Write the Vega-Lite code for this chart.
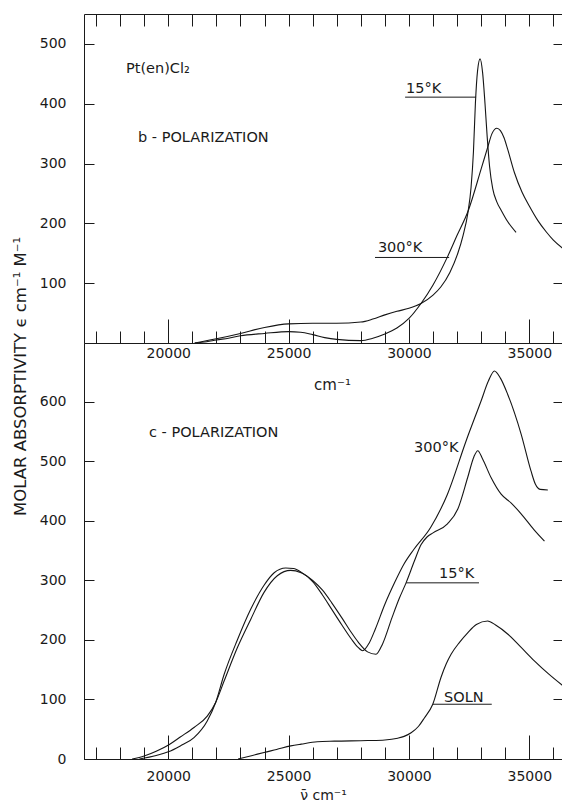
{
  "$schema": "https://vega.github.io/schema/vega-lite/v6.json",
  "padding": {"left": 12, "top": 13, "right": 0, "bottom": 2},
  "bounds": "flush",
  "spacing": 0,
  "config": {
    "view": {"stroke": null},
    "font": "DejaVu Sans",
    "axis": {
      "grid": false, "domainColor": "#1a1a1a", "tickColor": "#1a1a1a", "labelColor": "#1a1a1a", "titleColor": "#1a1a1a",
      "labelFont": "DejaVu Sans", "titleFont": "DejaVu Sans", "labelFontSize": 14, "titleFontSize": 14,
      "titleFontWeight": "normal", "domainWidth": 1, "tickWidth": 1, "labelOverlap": false, "labelFlush": false
    }
  },
  "datasets": {
    "top": [
      {"s": "300K", "v": 21100, "a": 0}, {"s": "300K", "v": 21600, "a": 2}, {"s": "300K", "v": 22000, "a": 5}, {"s": "300K", "v": 22500, "a": 8},
      {"s": "300K", "v": 23000, "a": 12}, {"s": "300K", "v": 24000, "a": 16}, {"s": "300K", "v": 25000, "a": 19}, {"s": "300K", "v": 25500, "a": 18},
      {"s": "300K", "v": 26000, "a": 14}, {"s": "300K", "v": 26500, "a": 9}, {"s": "300K", "v": 27000, "a": 6}, {"s": "300K", "v": 28000, "a": 4},
      {"s": "300K", "v": 28500, "a": 8}, {"s": "300K", "v": 29000, "a": 15}, {"s": "300K", "v": 29500, "a": 25}, {"s": "300K", "v": 30000, "a": 41},
      {"s": "300K", "v": 30500, "a": 66}, {"s": "300K", "v": 31000, "a": 97}, {"s": "300K", "v": 31600, "a": 144}, {"s": "300K", "v": 32000, "a": 180},
      {"s": "300K", "v": 32470, "a": 222}, {"s": "300K", "v": 33000, "a": 291}, {"s": "300K", "v": 33270, "a": 327}, {"s": "300K", "v": 33450, "a": 350},
      {"s": "300K", "v": 33650, "a": 359}, {"s": "300K", "v": 33800, "a": 355}, {"s": "300K", "v": 33950, "a": 343}, {"s": "300K", "v": 34100, "a": 324},
      {"s": "300K", "v": 34380, "a": 285}, {"s": "300K", "v": 34700, "a": 252}, {"s": "300K", "v": 35000, "a": 229}, {"s": "300K", "v": 35350, "a": 205},
      {"s": "300K", "v": 35700, "a": 186}, {"s": "300K", "v": 36000, "a": 172}, {"s": "300K", "v": 36400, "a": 158},
      {"s": "15K", "v": 21100, "a": 0}, {"s": "15K", "v": 22000, "a": 7}, {"s": "15K", "v": 23000, "a": 16}, {"s": "15K", "v": 24000, "a": 26},
      {"s": "15K", "v": 25000, "a": 32}, {"s": "15K", "v": 26000, "a": 33}, {"s": "15K", "v": 27000, "a": 33}, {"s": "15K", "v": 28000, "a": 35},
      {"s": "15K", "v": 28500, "a": 40}, {"s": "15K", "v": 29000, "a": 47}, {"s": "15K", "v": 29500, "a": 53}, {"s": "15K", "v": 30000, "a": 58},
      {"s": "15K", "v": 30500, "a": 66}, {"s": "15K", "v": 31000, "a": 80}, {"s": "15K", "v": 31330, "a": 94}, {"s": "15K", "v": 31700, "a": 118},
      {"s": "15K", "v": 32030, "a": 150}, {"s": "15K", "v": 32250, "a": 180}, {"s": "15K", "v": 32450, "a": 218}, {"s": "15K", "v": 32580, "a": 260},
      {"s": "15K", "v": 32680, "a": 320}, {"s": "15K", "v": 32760, "a": 400}, {"s": "15K", "v": 32850, "a": 455}, {"s": "15K", "v": 32955, "a": 475},
      {"s": "15K", "v": 33060, "a": 452}, {"s": "15K", "v": 33160, "a": 400}, {"s": "15K", "v": 33250, "a": 345}, {"s": "15K", "v": 33350, "a": 295},
      {"s": "15K", "v": 33480, "a": 258}, {"s": "15K", "v": 33650, "a": 236}, {"s": "15K", "v": 33830, "a": 222}, {"s": "15K", "v": 34100, "a": 203},
      {"s": "15K", "v": 34450, "a": 185}
    ],
    "bottom": [
      {"s": "300K", "v": 18800, "a": 0}, {"s": "300K", "v": 19500, "a": 6}, {"s": "300K", "v": 20000, "a": 12}, {"s": "300K", "v": 20500, "a": 22},
      {"s": "300K", "v": 21070, "a": 36}, {"s": "300K", "v": 21620, "a": 64}, {"s": "300K", "v": 21970, "a": 95}, {"s": "300K", "v": 22320, "a": 142},
      {"s": "300K", "v": 22870, "a": 200}, {"s": "300K", "v": 23430, "a": 252}, {"s": "300K", "v": 23980, "a": 292}, {"s": "300K", "v": 24400, "a": 313},
      {"s": "300K", "v": 24880, "a": 321}, {"s": "300K", "v": 25200, "a": 320}, {"s": "300K", "v": 25520, "a": 314}, {"s": "300K", "v": 26000, "a": 298},
      {"s": "300K", "v": 26400, "a": 276}, {"s": "300K", "v": 26800, "a": 251}, {"s": "300K", "v": 27200, "a": 226}, {"s": "300K", "v": 27600, "a": 202},
      {"s": "300K", "v": 27900, "a": 187}, {"s": "300K", "v": 28080, "a": 182}, {"s": "300K", "v": 28350, "a": 195}, {"s": "300K", "v": 28600, "a": 218},
      {"s": "300K", "v": 29000, "a": 260}, {"s": "300K", "v": 29400, "a": 296}, {"s": "300K", "v": 29800, "a": 328}, {"s": "300K", "v": 30200, "a": 352},
      {"s": "300K", "v": 30900, "a": 389}, {"s": "300K", "v": 31600, "a": 445}, {"s": "300K", "v": 32370, "a": 534}, {"s": "300K", "v": 33000, "a": 602},
      {"s": "300K", "v": 33300, "a": 635}, {"s": "300K", "v": 33550, "a": 652}, {"s": "300K", "v": 33800, "a": 640}, {"s": "300K", "v": 34100, "a": 613},
      {"s": "300K", "v": 34660, "a": 546}, {"s": "300K", "v": 35070, "a": 484}, {"s": "300K", "v": 35250, "a": 462}, {"s": "300K", "v": 35450, "a": 453},
      {"s": "300K", "v": 35770, "a": 452},
      {"s": "15K", "v": 18500, "a": 0}, {"s": "15K", "v": 19000, "a": 5}, {"s": "15K", "v": 19500, "a": 13}, {"s": "15K", "v": 20030, "a": 24},
      {"s": "15K", "v": 20500, "a": 37}, {"s": "15K", "v": 21070, "a": 53}, {"s": "15K", "v": 21620, "a": 72}, {"s": "15K", "v": 21970, "a": 95},
      {"s": "15K", "v": 22320, "a": 131}, {"s": "15K", "v": 22870, "a": 187}, {"s": "15K", "v": 23430, "a": 235}, {"s": "15K", "v": 23980, "a": 280},
      {"s": "15K", "v": 24530, "a": 308}, {"s": "15K", "v": 25090, "a": 317}, {"s": "15K", "v": 25520, "a": 313}, {"s": "15K", "v": 26000, "a": 300},
      {"s": "15K", "v": 26400, "a": 284}, {"s": "15K", "v": 26800, "a": 262}, {"s": "15K", "v": 27200, "a": 238}, {"s": "15K", "v": 27600, "a": 213},
      {"s": "15K", "v": 27900, "a": 196}, {"s": "15K", "v": 28280, "a": 180}, {"s": "15K", "v": 28630, "a": 176}, {"s": "15K", "v": 28900, "a": 193},
      {"s": "15K", "v": 29300, "a": 238}, {"s": "15K", "v": 29600, "a": 270}, {"s": "15K", "v": 29880, "a": 296}, {"s": "15K", "v": 30230, "a": 333},
      {"s": "15K", "v": 30500, "a": 360}, {"s": "15K", "v": 30750, "a": 373}, {"s": "15K", "v": 31000, "a": 380}, {"s": "15K", "v": 31600, "a": 395},
      {"s": "15K", "v": 32030, "a": 420}, {"s": "15K", "v": 32440, "a": 473}, {"s": "15K", "v": 32700, "a": 508}, {"s": "15K", "v": 32860, "a": 518},
      {"s": "15K", "v": 33050, "a": 505}, {"s": "15K", "v": 33410, "a": 473}, {"s": "15K", "v": 33830, "a": 445}, {"s": "15K", "v": 34250, "a": 430},
      {"s": "15K", "v": 34660, "a": 412}, {"s": "15K", "v": 35200, "a": 385}, {"s": "15K", "v": 35630, "a": 366},
      {"s": "SOLN", "v": 22900, "a": 0}, {"s": "SOLN", "v": 23500, "a": 6}, {"s": "SOLN", "v": 23980, "a": 11}, {"s": "SOLN", "v": 24500, "a": 16},
      {"s": "SOLN", "v": 25090, "a": 22}, {"s": "SOLN", "v": 25520, "a": 25}, {"s": "SOLN", "v": 26190, "a": 29}, {"s": "SOLN", "v": 26900, "a": 30},
      {"s": "SOLN", "v": 28280, "a": 31}, {"s": "SOLN", "v": 29000, "a": 32}, {"s": "SOLN", "v": 29530, "a": 35}, {"s": "SOLN", "v": 29800, "a": 38},
      {"s": "SOLN", "v": 30090, "a": 44}, {"s": "SOLN", "v": 30400, "a": 55}, {"s": "SOLN", "v": 30640, "a": 69}, {"s": "SOLN", "v": 30990, "a": 92},
      {"s": "SOLN", "v": 31330, "a": 137}, {"s": "SOLN", "v": 31550, "a": 160}, {"s": "SOLN", "v": 31750, "a": 176}, {"s": "SOLN", "v": 32100, "a": 196},
      {"s": "SOLN", "v": 32440, "a": 212}, {"s": "SOLN", "v": 32800, "a": 226}, {"s": "SOLN", "v": 33270, "a": 232}, {"s": "SOLN", "v": 33600, "a": 225},
      {"s": "SOLN", "v": 34100, "a": 210}, {"s": "SOLN", "v": 34600, "a": 190}, {"s": "SOLN", "v": 35210, "a": 165}, {"s": "SOLN", "v": 35800, "a": 143},
      {"s": "SOLN", "v": 36400, "a": 123}
    ],
    "topText": [
      {"x": 18245, "y": 458, "t": "Pt(en)Cl₂"},
      {"x": 18745, "y": 343, "t": "b - POLARIZATION"},
      {"x": 29880, "y": 425, "t": "15°K"},
      {"x": 28710, "y": 159, "t": "300°K"}
    ],
    "topLead": [
      {"x": 29840, "x2": 32790, "y": 411},
      {"x": 28590, "x2": 31670, "y": 143}
    ],
    "botText": [
      {"x": 19200, "y": 548, "t": "c - POLARIZATION"},
      {"x": 30210, "y": 523, "t": "300°K"},
      {"x": 31250, "y": 311, "t": "15°K"},
      {"x": 31460, "y": 103, "t": "SOLN"}
    ],
    "botLead": [
      {"x": 29880, "x2": 32910, "y": 296},
      {"x": 30990, "x2": 33440, "y": 92}
    ]
  },
  "vconcat": [
    {
      "width": 479,
      "height": 329,
      "resolve": {"axis": {"x": "independent", "y": "independent"}},
      "layer": [
        {
          "data": {"name": "top"},
          "mark": {"type": "line", "interpolate": "monotone", "color": "#151515", "strokeWidth": 1.1},
          "encoding": {
            "x": {"field": "v", "type": "quantitative", "scale": {"domain": [16500, 36400], "nice": false, "zero": false},
                  "axis": {"orient": "bottom", "values": [17000, 18000, 19000, 20000, 21000, 22000, 23000, 24000, 25000, 26000, 27000, 28000, 29000, 30000, 31000, 32000, 33000, 34000, 35000, 36000],
                           "tickSize": -12, "labels": false, "title": null}},
            "y": {"field": "a", "type": "quantitative", "scale": {"domain": [0, 550], "nice": false},
                  "axis": {"orient": "left", "values": [100, 200, 300, 400, 500], "tickSize": -10, "labelPadding": 28,
                           "title": "MOLAR ABSORPTIVITY   ϵ   cm⁻¹  M⁻¹", "titleX": -64, "titleY": 362, "titleAngle": -90,
                           "titleAlign": "center", "titleBaseline": "middle", "titleFontSize": 16.5}},
            "detail": {"field": "s"}
          }
        },
        {
          "data": {"name": "topLead"},
          "mark": {"type": "rule", "color": "#1a1a1a", "strokeWidth": 1},
          "encoding": {
            "x": {"field": "x", "type": "quantitative", "scale": {"domain": [16500, 36400], "nice": false, "zero": false},
                  "axis": {"orient": "bottom", "values": [20000, 25000, 30000, 35000], "tickSize": -24, "labelPadding": 27, "format": "d",
                           "title": "cm⁻¹", "titleX": 248, "titleY": 41, "titleBaseline": "middle", "titleFontSize": 15}},
            "x2": {"field": "x2"},
            "y": {"field": "y", "type": "quantitative", "scale": {"domain": [0, 550], "nice": false},
                  "axis": {"orient": "right", "values": [100, 200, 300, 400, 500], "tickSize": -10, "labels": false, "title": null}}
          }
        },
        {
          "data": {"name": "topText"},
          "mark": {"type": "text", "align": "left", "baseline": "middle", "fontSize": 14.5, "font": "DejaVu Sans", "color": "#1a1a1a"},
          "encoding": {
            "x": {"field": "x", "type": "quantitative", "scale": {"domain": [16500, 36400], "nice": false, "zero": false},
                  "axis": {"orient": "top", "values": [17000, 18000, 19000, 20000, 21000, 22000, 23000, 24000, 25000, 26000, 27000, 28000, 29000, 30000, 31000, 32000, 33000, 34000, 35000, 36000],
                           "tickSize": -12, "labels": false, "title": null}},
            "y": {"field": "y", "type": "quantitative", "scale": {"domain": [0, 550], "nice": false}, "axis": null},
            "text": {"field": "t"}
          }
        }
      ]
    },
    {
      "width": 479,
      "height": 416,
      "resolve": {"axis": {"x": "independent", "y": "independent"}},
      "layer": [
        {
          "data": {"name": "bottom"},
          "mark": {"type": "line", "interpolate": "monotone", "color": "#151515", "strokeWidth": 1.1},
          "encoding": {
            "x": {"field": "v", "type": "quantitative", "scale": {"domain": [16500, 36400], "nice": false, "zero": false},
                  "axis": {"orient": "bottom", "values": [17000, 18000, 19000, 20000, 21000, 22000, 23000, 24000, 25000, 26000, 27000, 28000, 29000, 30000, 31000, 32000, 33000, 34000, 35000, 36000],
                           "tickSize": -12, "labels": false, "title": null}},
            "y": {"field": "a", "type": "quantitative", "scale": {"domain": [0, 699], "nice": false},
                  "axis": {"orient": "left", "values": [0, 100, 200, 300, 400, 500, 600], "tickSize": -10, "labelPadding": 28, "title": null}},
            "detail": {"field": "s"}
          }
        },
        {
          "data": {"name": "botLead"},
          "mark": {"type": "rule", "color": "#1a1a1a", "strokeWidth": 1},
          "encoding": {
            "x": {"field": "x", "type": "quantitative", "scale": {"domain": [16500, 36400], "nice": false, "zero": false},
                  "axis": {"orient": "bottom", "values": [20000, 25000, 30000, 35000], "tickSize": -24, "labelPadding": 34, "format": "d",
                           "title": "ν̄  cm⁻¹", "titleX": 239, "titleY": 36, "titleBaseline": "middle", "titleFontSize": 14}},
            "x2": {"field": "x2"},
            "y": {"field": "y", "type": "quantitative", "scale": {"domain": [0, 699], "nice": false},
                  "axis": {"orient": "right", "values": [100, 200, 300, 400, 500, 600], "tickSize": -10, "labels": false, "title": null}}
          }
        },
        {
          "data": {"name": "botText"},
          "mark": {"type": "text", "align": "left", "baseline": "middle", "fontSize": 14.5, "font": "DejaVu Sans", "color": "#1a1a1a"},
          "encoding": {
            "x": {"field": "x", "type": "quantitative", "scale": {"domain": [16500, 36400], "nice": false, "zero": false}, "axis": null},
            "y": {"field": "y", "type": "quantitative", "scale": {"domain": [0, 699], "nice": false}, "axis": null},
            "text": {"field": "t"}
          }
        }
      ]
    }
  ]
}
